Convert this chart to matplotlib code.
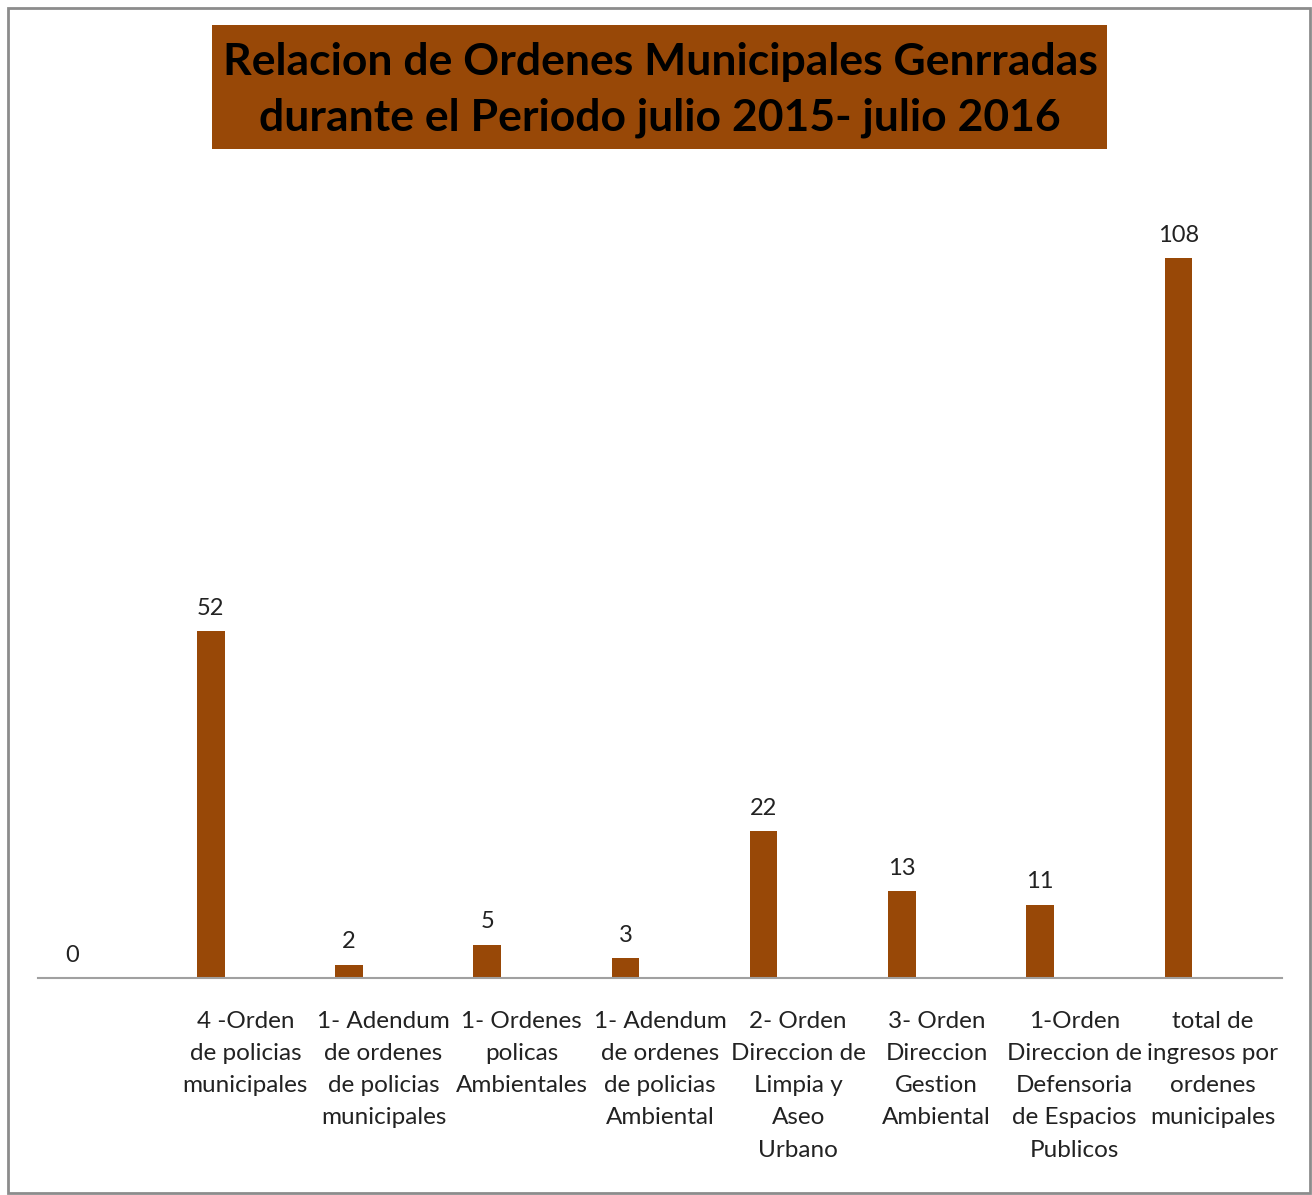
import matplotlib.pyplot as plt
from matplotlib.patches import Rectangle

# ==== datos ====
categorias = [
    "",
    "4 -Orden\nde policias\nmunicipales",
    "1- Adendum\nde ordenes\nde policias\nmunicipales",
    "1- Ordenes\npolicas\nAmbientales",
    "1- Adendum\nde ordenes\nde policias\nAmbiental",
    "2- Orden\nDireccion de\nLimpia y\nAseo\nUrbano",
    "3- Orden\nDireccion\nGestion\nAmbiental",
    "1-Orden\nDireccion de\nDefensoria\nde Espacios\nPublicos",
    "total de\ningresos por\nordenes\nmunicipales",
]
valores = [0, 52, 2, 5, 3, 22, 13, 11, 108]
titulo = "Relacion de Ordenes Municipales Genrradas\ndurante el Periodo julio 2015- julio 2016"

color_barra = '#984807'
W, H = 1312, 1195

plt.rcParams['font.family'] = ['Lato', 'DejaVu Sans']

fig = plt.figure(figsize=(W / 100, H / 100), dpi=100)

# marco gris
fig.patches.append(Rectangle((8 / W, 2 / H), 1302 / W, 1185 / H, transform=fig.transFigure,
                             fill=False, edgecolor='#8c8c8c', linewidth=2))

ax = fig.add_axes([38 / W, (H - 978) / H, 1244 / W, 800 / H])
x = list(range(len(valores)))
# serie unica desplazada a la izquierda (como en Excel con una segunda serie vacia)
xb = [xi - 0.25 for xi in x]
ax.bar(xb, valores, width=0.2, color=color_barra)
ax.set_xlim(-0.5, len(valores) - 0.5)
ax.set_ylim(0, 120)

for xi, v in zip(xb, valores):
    ax.annotate(str(v), (xi, v), xytext=(0, 9), textcoords='offset points',
                ha='center', va='bottom', fontsize=17, color='#222222')

ax.set_xticks(x)
ax.set_xticklabels(categorias, fontsize=17.5, color='#222222', linespacing=1.65)
ax.tick_params(axis='x', length=0, pad=24)
ax.set_yticks([])
for s in ['top', 'right', 'left']:
    ax.spines[s].set_visible(False)
ax.spines['bottom'].set_color('#a0a0a0')
ax.spines['bottom'].set_linewidth(1.5)

# titulo con caja
fig.patches.append(Rectangle((212 / W, (H - 149) / H), 895 / W, 124 / H, transform=fig.transFigure,
                             facecolor=color_barra, edgecolor='none'))
fig.text(660 / W, (H - 90) / H, titulo, ha='center', va='center', fontsize=32,
         fontweight='bold', color='black', linespacing=1.47)

fig.savefig('out.png', dpi=100)
